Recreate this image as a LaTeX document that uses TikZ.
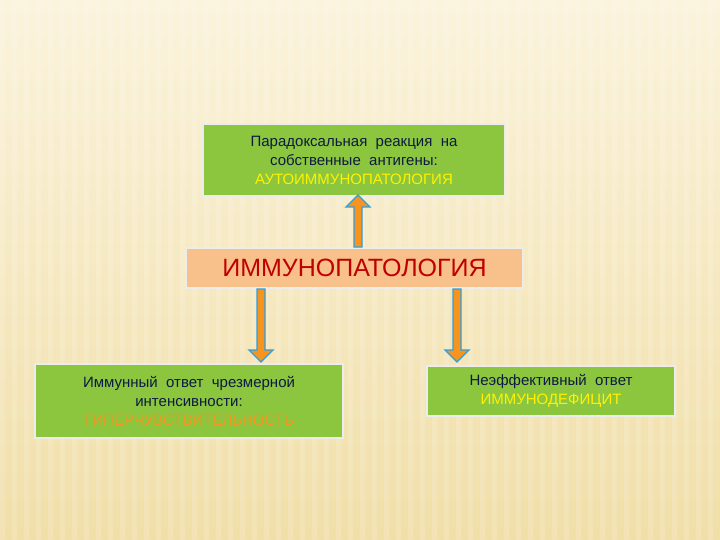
\documentclass[tikz,border=0pt]{standalone}
\usepackage{fontspec}
\setmainfont{Liberation Sans}
\begin{document}
\begin{tikzpicture}[x=1pt,y=-1pt,
  gbox/.style={draw=white!85!gray,line width=1.2pt,fill=boxgreen,inner sep=0pt,align=center,font=\fontsize{15}{19}\selectfont,text=navy},
  arrowbody/.style={fill=arrorange,draw=arrblue,line width=1.3pt,line join=miter}]
\definecolor{boxgreen}{HTML}{8CC63F}
\definecolor{navy}{HTML}{0D1A40}
\definecolor{peach}{HTML}{F8C08A}
\definecolor{arrorange}{HTML}{F7941D}
\definecolor{arrblue}{HTML}{2E9FE0}
\definecolor{bgtop}{HTML}{FBF3DC}
\definecolor{bgbot}{HTML}{F1DFA8}
\useasboundingbox (0,0) rectangle (720,540);
\shade[top color=bgtop,bottom color=bgbot] (0,0) rectangle (720,540);
\foreach \i in {0,12,...,720} \fill[white,opacity=0.15] (\i,0) rectangle (\i+5,540);
\node[gbox,minimum width=302pt,minimum height=72pt] (top) at (354,160)
  {Парадоксальная\ \ реакция\ \ на\\ собственные\ \ антигены:\\ \textcolor{yellow}{АУТОИММУНОПАТОЛОГИЯ}};
\node[draw=white!85!gray,line width=1.2pt,fill=peach,minimum width=337pt,minimum height=40pt,inner sep=0pt,text={rgb,255:red,192;green,0;blue,0},font=\fontsize{25}{28}\selectfont] (mid) at (354.5,268) {ИММУНОПАТОЛОГИЯ};
\node[gbox,minimum width=308pt,minimum height=74pt] (left) at (189,401)
  {Иммунный\ \ ответ\ \ чрезмерной\\ интенсивности:\\ \textcolor{arrorange}{ГИПЕРЧУВСТВИТЕЛЬНОСТЬ}};
\node[gbox,minimum width=248pt,minimum height=50pt] (right) at (551,391)
  {Неэффективный\ \ ответ\\ \textcolor{yellow}{ИММУНОДЕФИЦИТ}};
\draw[arrowbody] (354,247) -- (354,207) -- (346,207) -- (358,195) -- (370,207) -- (362,207) -- (362,247) -- cycle;
\draw[arrowbody] (257,289) -- (257,350) -- (249,350) -- (261,362) -- (273,350) -- (265,350) -- (265,289) -- cycle;
\draw[arrowbody] (453,289) -- (453,350) -- (445,350) -- (457,362) -- (469,350) -- (461,350) -- (461,289) -- cycle;
\end{tikzpicture}
\end{document}
